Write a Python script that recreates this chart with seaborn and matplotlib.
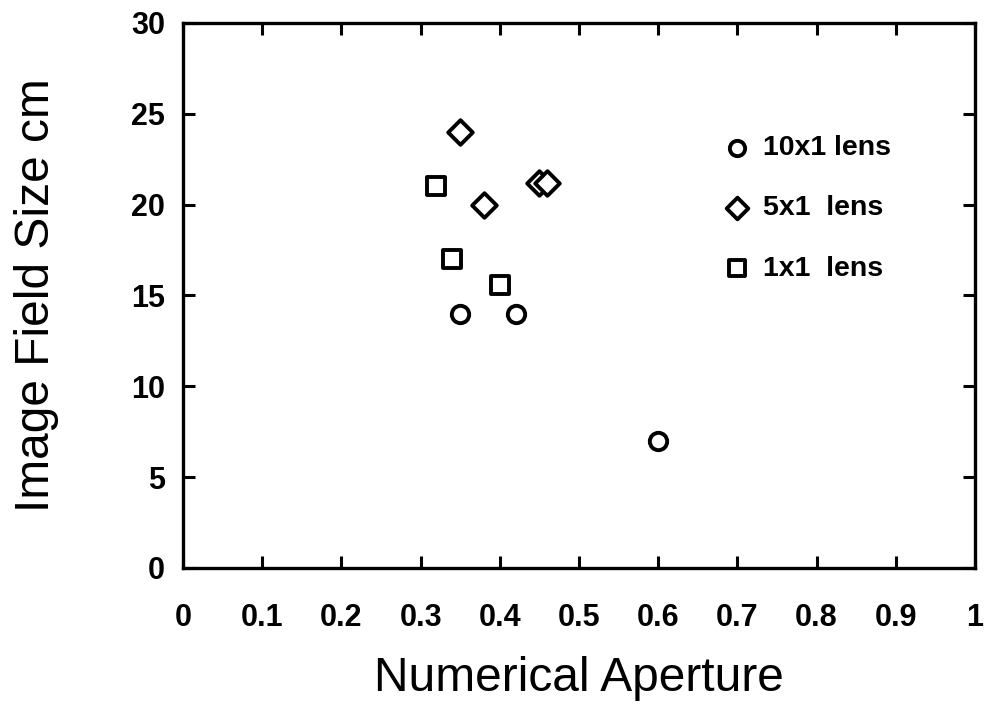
import matplotlib
matplotlib.use("Agg")
import matplotlib.pyplot as plt
import seaborn as sns
import pandas as pd

# Data
lens_types = ["10x1 lens", "5x1  lens", "1x1  lens"]
na_10x1 = [0.35, 0.42, 0.60]
size_10x1 = [14.0, 14.0, 7.0]
na_5x1 = [0.35, 0.38, 0.45, 0.46]
size_5x1 = [24.0, 20.0, 21.2, 21.2]
na_1x1 = [0.32, 0.34, 0.40]
size_1x1 = [21.0, 17.0, 15.6]
x_ticks = [0, 0.1, 0.2, 0.3, 0.4, 0.5, 0.6, 0.7, 0.8, 0.9, 1]
x_tick_labels = ["0", "0.1", "0.2", "0.3", "0.4", "0.5", "0.6", "0.7", "0.8", "0.9", "1"]
y_ticks = [0, 5, 10, 15, 20, 25, 30]

df = pd.DataFrame({
    "na": na_10x1 + na_5x1 + na_1x1,
    "size": size_10x1 + size_5x1 + size_1x1,
    "lens": [lens_types[0]] * len(na_10x1) + [lens_types[1]] * len(na_5x1) + [lens_types[2]] * len(na_1x1),
})

sns.set_style("white")
plt.rcParams["font.family"] = ["Liberation Sans", "DejaVu Sans"]
plt.rcParams["text.color"] = "black"
plt.rcParams["axes.labelcolor"] = "black"
plt.rcParams["xtick.color"] = "black"
plt.rcParams["ytick.color"] = "black"

fig = plt.figure(figsize=(9.85, 7.09), dpi=100)
ax = fig.add_axes([0.1858, 0.199, 0.804, 0.7686])

markers = {lens_types[0]: "o", lens_types[1]: "D", lens_types[2]: "s"}
sizes_pts = {lens_types[0]: 12.5, lens_types[1]: 12.5, lens_types[2]: 12.5}
for lt in lens_types:
    sub = df[df["lens"] == lt]
    sns.scatterplot(data=sub, x="na", y="size", ax=ax, marker=markers[lt],
                    s=sizes_pts[lt] ** 2, facecolor="white", edgecolor="black",
                    linewidth=2.8, label=lt, zorder=3)

ax.set_xlim(0, 1)
ax.set_ylim(0, 30)
ax.set_xticks(x_ticks)
ax.set_xticklabels(x_tick_labels)
ax.set_yticks(y_ticks)
for lab in ax.get_xticklabels() + ax.get_yticklabels():
    lab.set_fontweight("bold")
    lab.set_fontsize(22)
    lab.set_color("black")
ax.tick_params(direction="in", length=8.5, width=2.2, top=True, right=True,
               bottom=True, left=True, labeltop=False, labelright=False)
ax.tick_params(axis="x", pad=25)
ax.tick_params(axis="y", pad=13)
for sp in ax.spines.values():
    sp.set_visible(True)
    sp.set_linewidth(2.4)
    sp.set_color("black")

ax.set_xlabel("Numerical Aperture", fontsize=34.5, labelpad=17, color="black")
ax.set_ylabel("Image Field Size cm", fontsize=34.5, labelpad=52, color="black")

leg = ax.legend(loc="upper left", bbox_to_anchor=(0.664, 0.815), frameon=False,
                fontsize=20.5, handletextpad=0.3, labelspacing=1.2,
                markerscale=0.88, borderaxespad=0, handlelength=1.2)
for t in leg.get_texts():
    t.set_fontweight("bold")
    t.set_color("black")

fig.savefig("out.png", dpi=100)
